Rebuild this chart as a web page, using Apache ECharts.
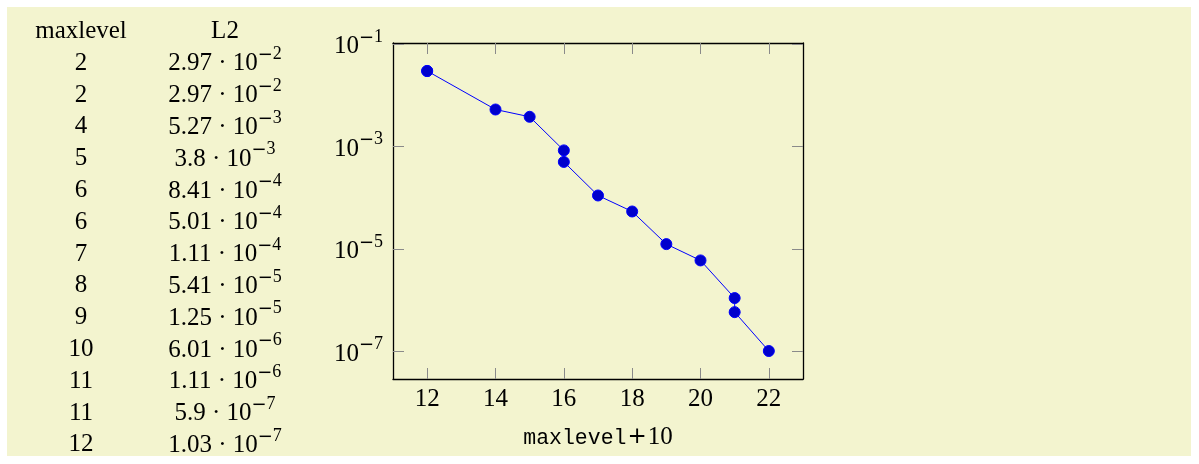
<!DOCTYPE html>
<html>
<head>
<meta charset="utf-8">
<script src="https://cdn.jsdelivr.net/npm/echarts@6/dist/echarts.min.js"></script>
<style>
  html, body { margin: 0; padding: 0; background: #ffffff; }
  #chart { width: 1199px; height: 464px; }
</style>
</head>
<body>
<div id="chart"></div>
<script>
// ---- data ----
const tableHeaders = ['maxlevel', 'L2'];
const maxlevel = [2, 2, 4, 5, 6, 6, 7, 8, 9, 10, 11, 11, 12];
const l2 = [2.97e-2, 2.97e-2, 5.27e-3, 3.8e-3, 8.41e-4, 5.01e-4, 1.11e-4, 5.41e-5, 1.25e-5, 6.01e-6, 1.11e-6, 5.9e-7, 1.03e-7];
const xShift = 10;               // x = maxlevel + 10
const xTicks = [12, 14, 16, 18, 20, 22];
const yTicks = [1e-7, 1e-5, 1e-3, 1e-1];
const xAxisTitleTT = 'maxlevel';
const xAxisTitleRM = '+10';

// ---- helpers ----
const SERIF = '"Liberation Serif", "DejaVu Serif", serif';
const SANS = '"DejaVu Sans", sans-serif';
const MONO = '"Liberation Mono", "DejaVu Sans Mono", monospace';
const FS = 25, SFS = 18, LH = 30, RAISE = 13;
const rich = {
  b: { fontFamily: SERIF, fontSize: FS, color: '#000', verticalAlign: 'bottom', lineHeight: LH },
  s: { fontFamily: SERIF, fontSize: SFS, color: '#000', verticalAlign: 'bottom', lineHeight: LH, padding: [0, 0, RAISE, 0] },
  sm: { fontFamily: SANS, fontSize: SFS, color: '#000', verticalAlign: 'bottom', lineHeight: LH, padding: [0, 0, RAISE - 1, 0] },
  tt: { fontFamily: MONO, fontSize: 21.5, color: '#000', verticalAlign: 'bottom', lineHeight: LH, padding: [0, 0, 1, 0] },
  op: { fontFamily: SANS, fontSize: 23, color: '#000', verticalAlign: 'bottom', lineHeight: LH, padding: [0, 1, 1, 1] },
  rm: { fontFamily: SERIF, fontSize: FS, color: '#000', verticalAlign: 'bottom', lineHeight: LH }
};
function supExp(e) {
  return (e < 0 ? '{sm|\u2212}' : '') + '{s|' + Math.abs(e) + '}';
}
function sci(v) {
  const e = Math.floor(Math.log10(v) + 1e-9);
  const m = parseFloat((v / Math.pow(10, e)).toFixed(2));
  return '{b|' + m + ' · 10}' + supExp(e);
}
function pow10Label(v) {
  const e = Math.round(Math.log10(v));
  return '{b|10}' + supExp(e);
}

const xs = maxlevel.map(m => m + xShift);
const pts = xs.map((x, i) => [x, l2[i]]);

// pgfplots-like enlarged limits (10%)
const xMin = Math.min(...xs), xMax = Math.max(...xs);
const xPad = 0.1 * (xMax - xMin);
const lyMin = Math.log10(Math.min(...l2)), lyMax = Math.log10(Math.max(...l2));
const yPad = 0.1 * (lyMax - lyMin);
const yMin = Math.pow(10, lyMin - yPad), yMax = Math.pow(10, lyMax + yPad);

// table graphics
const colX = [81, 225];
const rowY0 = 31.5, rowStep = 31.8;
const tableEls = [];
tableHeaders.forEach((h, c) => {
  tableEls.push({ type: 'text', x: colX[c], y: rowY0, z: 10,
    style: { text: h, font: FS + 'px ' + SERIF, fill: '#000', align: 'center', verticalAlign: 'middle' } });
});
maxlevel.forEach((m, i) => {
  const y = rowY0 + (i + 1) * rowStep;
  tableEls.push({ type: 'text', x: colX[0], y: y, z: 10,
    style: { text: String(m), font: FS + 'px ' + SERIF, fill: '#000', align: 'center', verticalAlign: 'middle' } });
  tableEls.push({ type: 'text', x: colX[1], y: y - 2, z: 10,
    style: { text: sci(l2[i]), rich: rich, align: 'center', verticalAlign: 'middle' } });
});

const frameLine = { show: true, onZero: false, lineStyle: { color: '#000', width: 1.3 } };
const tickStyle = { show: true, inside: true, length: 11, lineStyle: { color: '#8a8a8a', width: 1 } };

const xName = '{tt|' + xAxisTitleTT + '}{op|' + xAxisTitleRM.charAt(0) + '}{rm|' + xAxisTitleRM.slice(1) + '}';

const chart = echarts.init(document.getElementById('chart'), null, { renderer: 'canvas' });
chart.setOption({
  animation: false,
  backgroundColor: '#ffffff',
  graphic: [
    { type: 'rect', z: -100, shape: { x: 7, y: 7, width: 1184, height: 449 }, style: { fill: '#f3f4cf' } },
    ...tableEls
  ],
  grid: { left: 393, top: 43, width: 410, height: 336, containLabel: false, outerBoundsMode: 'none' },
  xAxis: [
    { type: 'value', position: 'bottom', min: xMin - xPad, max: xMax + xPad,
      axisLine: frameLine,
      axisTick: Object.assign({ customValues: xTicks }, tickStyle),
      axisLabel: { customValues: xTicks, margin: 8, fontFamily: SERIF, fontSize: FS, color: '#000' },
      splitLine: { show: false },
      name: xName,
      nameLocation: 'middle', nameGap: 41,
      nameTextStyle: { rich: rich } },
    { type: 'value', position: 'top', min: xMin - xPad, max: xMax + xPad,
      axisLine: frameLine,
      axisTick: Object.assign({ customValues: xTicks }, tickStyle),
      axisLabel: { show: false }, splitLine: { show: false } }
  ],
  yAxis: [
    { type: 'log', logBase: 10, position: 'left', min: yMin, max: yMax,
      axisLine: frameLine,
      axisTick: Object.assign({ customValues: yTicks }, tickStyle),
      minorTick: { show: false },
      axisLabel: { customValues: yTicks, margin: 10, formatter: pow10Label, rich: rich },
      splitLine: { show: false } },
    { type: 'log', logBase: 10, position: 'right', min: yMin, max: yMax,
      axisLine: frameLine,
      axisTick: Object.assign({ customValues: yTicks }, tickStyle),
      axisLabel: { show: false }, splitLine: { show: false } }
  ],
  series: [{
    type: 'line',
    xAxisIndex: 0, yAxisIndex: 0,
    data: pts,
    symbol: 'circle', symbolSize: 11, showSymbol: true,
    lineStyle: { color: '#0000ff', width: 1 },
    itemStyle: { color: '#0000cc', borderColor: '#0000ff', borderWidth: 1 },
    z: 3
  }]
});
</script>
</body>
</html>
